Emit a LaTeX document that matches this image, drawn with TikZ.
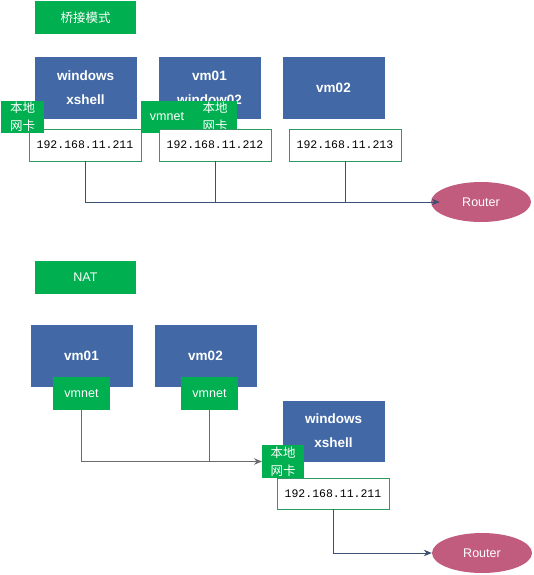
\documentclass[tikz,border=0pt]{standalone}
\usepackage{fontspec}
\setmainfont{Liberation Sans}
\newfontfamily\cjk{Noto Sans CJK SC}
\newfontfamily\ipmono{Liberation Mono}
\usetikzlibrary{arrows.meta,shapes.geometric}
\definecolor{boxblue}{HTML}{4269A5}
\definecolor{nicgreen}{HTML}{00B050}
\definecolor{ipgreen}{HTML}{2E9B63}
\definecolor{routerpink}{HTML}{C25C7E}
\definecolor{linkblue}{HTML}{3A5174}
\definecolor{linkgray}{HTML}{6B6B6B}
\begin{document}
\begin{tikzpicture}[x=1pt,y=-1pt,
  bluebox/.style={draw=boxblue, fill=boxblue, text=white, line width=0.8pt,
    font=\bfseries\fontsize{13.5}{24}\selectfont, align=center,
    inner sep=0pt, outer sep=0pt, anchor=north west,
    minimum width=101pt, minimum height=61pt},
  greenbox/.style={fill=nicgreen, text=white, inner sep=0pt, outer sep=0pt,
    anchor=north west, font=\fontsize{12.5}{15}\selectfont},
  titlebox/.style={greenbox, minimum width=101pt, minimum height=33pt},
  nicbox/.style={greenbox, font=\cjk\fontsize{12.5}{18}\selectfont, align=center,
    minimum width=43pt, minimum height=32pt},
  vmnetbox/.style={greenbox, minimum width=57pt, minimum height=33pt},
  ipbox/.style={draw=ipgreen, fill=white, line width=0.8pt, inner sep=0pt, outer sep=0pt,
    anchor=north west, font=\ipmono\fontsize{11.5}{12}\selectfont,
    minimum width=112pt, minimum height=32pt},
  routernode/.style={ellipse, fill=routerpink, text=white, inner sep=0pt,
    minimum width=100pt, minimum height=40pt, font=\fontsize{12.5}{15}\selectfont},
  link/.style={draw=linkblue, line width=1pt},
  graylink/.style={draw=linkgray, line width=1pt},
  arr/.style={-{Stealth[length=8pt,width=6.5pt]}}
]
\useasboundingbox (0,0) rectangle (533,575);

% ---------- top: bridge mode ----------
\node[titlebox, font=\cjk\fontsize{12.5}{15}\selectfont] (t1) at (35,1) {桥接模式};

\node[bluebox] (win1) at (35,57) {windows\\xshell};
\node[bluebox] (vm01a) at (159,57) {vm01\\window02};
\node[bluebox] (vm02a) at (283,57) {vm02};

\node[ipbox] (ip1) at (29,129) {192.168.11.211};
\node[nicbox] (nic1) at (1,101) {本地\\网卡};

\node[greenbox, minimum width=52pt, minimum height=32pt] (vmnet0) at (141,101) {vmnet};
\node[nicbox, minimum width=44pt] (nic2) at (193,101) {本地\\网卡};
\node[ipbox] (ip2) at (159,129) {192.168.11.212};
\node[ipbox] (ip3) at (289,129) {192.168.11.213};

\node[routernode] (r1) at (481,202) {Router};

\draw[link,arr] (ip1.south) |- ([xshift=9pt]r1.west);
\draw[link] (ip2.south) -- (ip2.south |- r1.west);
\draw[link] (ip3.south) -- (ip3.south |- r1.west);

% ---------- bottom: NAT ----------
\node[titlebox] (t2) at (35,261) {NAT};

\node[bluebox] (vm01b) at (31,325) {vm01};
\node[bluebox] (vm02b) at (155,325) {vm02};
\node[vmnetbox] (vmnet1) at (53,377) {vmnet};
\node[vmnetbox] (vmnet2) at (181,377) {vmnet};

\node[bluebox, minimum height=60pt] (win2) at (283,401) {windows\\xshell};
\node[nicbox, minimum width=42pt, minimum height=33pt] (nic3) at (262,445) {本地\\网卡};
\node[ipbox, minimum height=31pt] (ip4) at (277,478) {192.168.11.211};

\node[routernode] (r2) at (482,553) {Router};

\draw[graylink,arr] (vmnet1.south) |- (nic3.west);
\draw[graylink] (vmnet2.south) -- (vmnet2.south |- nic3.west);
\draw[link,arr] (ip4.south) |- (r2.west);
\end{tikzpicture}
\end{document}
